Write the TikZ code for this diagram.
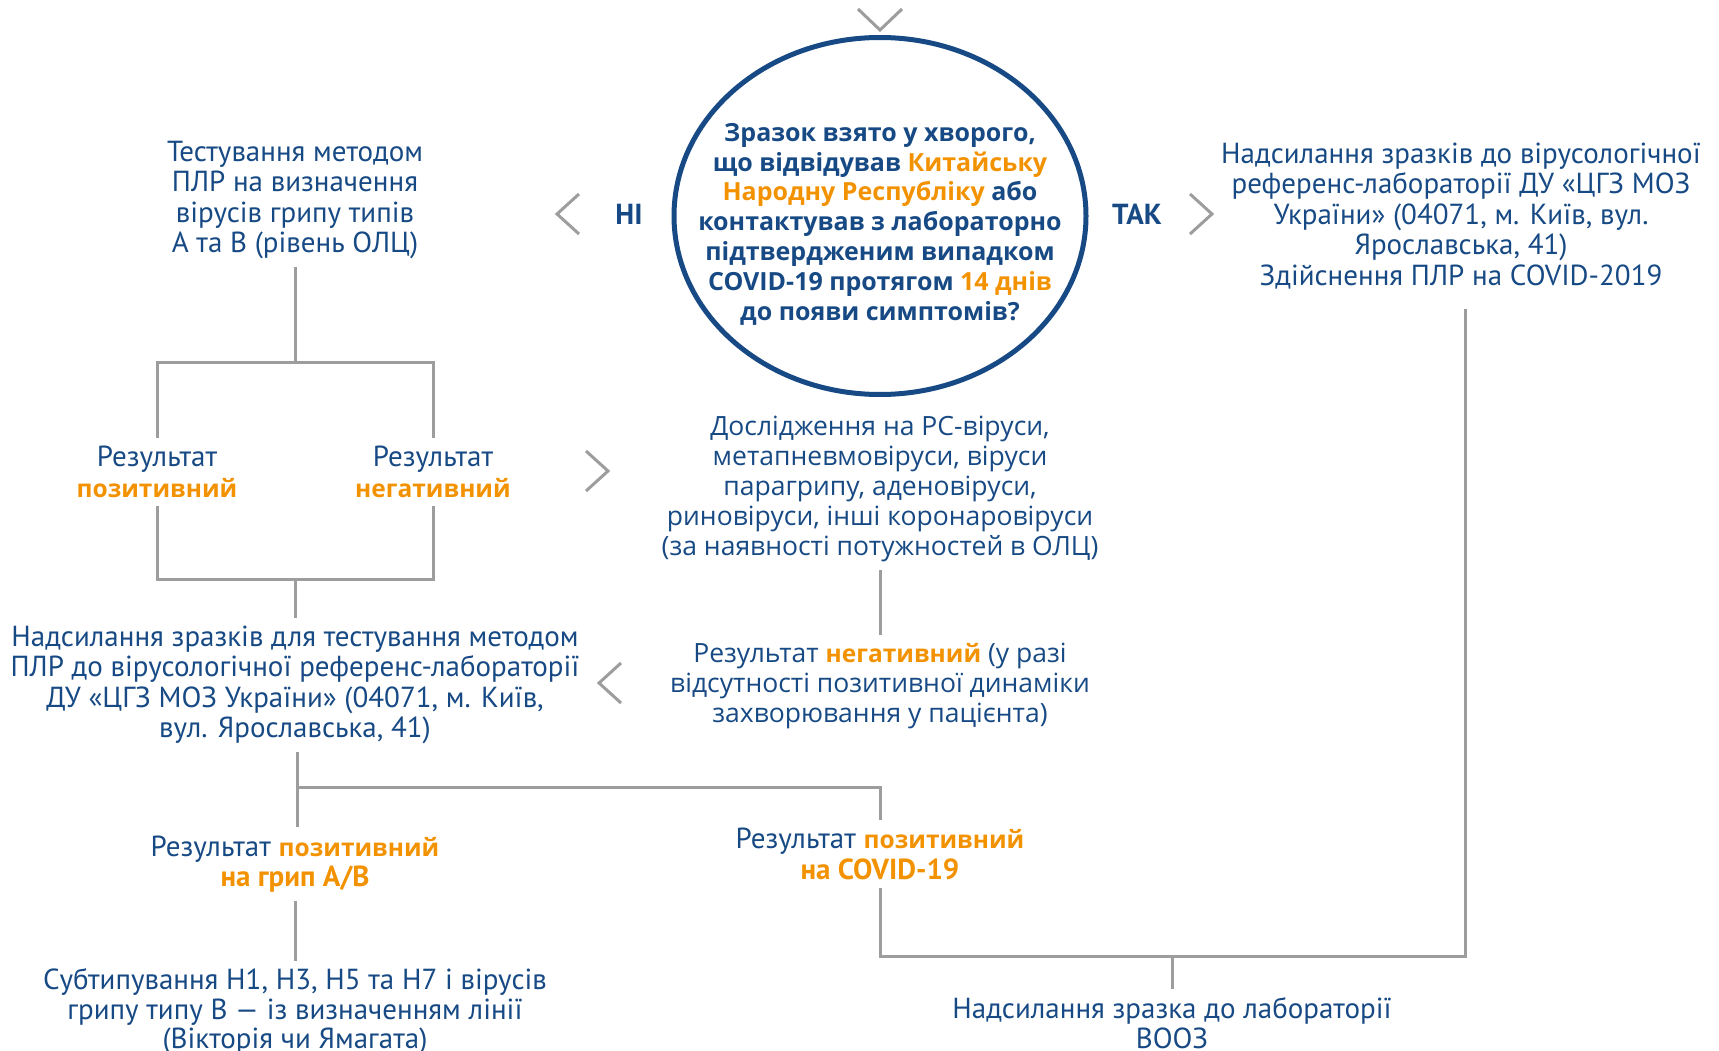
\documentclass[tikz,border=0pt]{standalone}
\usepackage{fontspec}
\setmainfont{PT Sans}
\newfontfamily\widefont{Open Sans}
\usepackage{tikz}
\usetikzlibrary{positioning,shapes.geometric}
\definecolor{navy}{HTML}{174A84}
\definecolor{amber}{HTML}{F39200}
\definecolor{greyline}{HTML}{9D9D9D}
\newcommand\orng[1]{{\color{amber}#1}}
\newcommand\orb[1]{{\widefont\bfseries\fontsize{24.5}{30}\selectfont\color{amber}#1}}
\newcommand\orn[1]{{\bfseries\color{amber}#1}}

\begin{document}
\begin{tikzpicture}[x=1pt,y=-1pt,
	txt/.style={text=navy, align=center, inner sep=8pt,
		font=\fontsize{29}{30.5}\selectfont},
	wide/.style={text=navy, align=center, inner sep=8pt,
		font=\widefont\fontsize{26.5}{29.8}\selectfont},
	quest/.style={ellipse, draw=navy, line width=5pt, minimum width=412pt,
		minimum height=357pt, inner sep=0pt},
	questtext/.style={text=navy, align=center,
		font=\widefont\bfseries\fontsize{25}{29.8}\selectfont},
	yesno/.style={text=navy, font=\bfseries\fontsize{29}{30}\selectfont},
	ln/.style={draw=greyline, line width=3pt},
	chev/.style={draw=greyline, line width=3pt},
	pics/chevleft/.style={code={\draw[chev] (22,-20) -- (0,0) -- (22,20);}},
	pics/chevright/.style={code={\draw[chev] (-22,-20) -- (0,0) -- (-22,20);}},
	pics/chevdown/.style={code={\draw[chev] (-22,-21) -- (0,0) -- (22,-21);}}
	]
	\useasboundingbox (0,0) rectangle (1719,1051);

	\node (q) [quest] at (880,216) {};
	\node (qtext) [questtext] at (880,224) {Зразок взято у хворого,\\що відвідував \orng{Китайську}\\\orng{Народну Республіку} або\\контактував з лабораторно\\підтвердженим випадком\\COVID-19 протягом \orng{14 днів}\\до появи симптомів?};
	\pic at (880,30) {chevdown};

	\node (ni) [yesno] at (629,214) {НІ};
	\pic at (557,214) {chevleft};
	\node (tak) [yesno] at (1137,214) {ТАК};
	\pic at (1212,214) {chevright};

	\node (tl) [txt] at (295,200) {Тестування методом\\ПЛР на визначення\\вірусів грипу типів\\А та В (рівень ОЛЦ)};
	\node (tr) [txt] at (1461,216) {Надсилання зразків до вірусологічної\\референс-лабораторії ДУ «ЦГЗ МОЗ\\України» (04071, м. Київ, вул.\\Ярославська, 41)\\Здійснення ПЛР на COVID-2019};

	\node (pos1) [txt] at (157,472) {Результат\\\orb{позитивний}};
	\node (neg1) [txt] at (433,472) {Результат\\\orb{негативний}};
	\pic at (608,471) {chevright};

	\node (mid) [wide] at (880,489) {Дослідження на РС-віруси,\\метапневмовіруси, віруси\\парагрипу, аденовіруси,\\риновіруси, інші коронаровіруси\\(за наявності потужностей в ОЛЦ)};
	\node (neg2) [wide] at (880,686) {Результат \orb{негативний} (у разі\\відсутності позитивної динаміки\\захворювання у пацієнта)};
	\pic at (599,683) {chevleft};

	\node (sendL) [txt] at (295,685) {Надсилання зразків для тестування методом\\ПЛР до вірусологічної референс-лабораторії\\ДУ «ЦГЗ МОЗ України» (04071, м. Київ,\\вул. Ярославська, 41)};

	\node (pos2) [txt] at (295,864) {Результат \orb{позитивний}\\\orn{на грип А/В}};
	\node (covid) [txt] at (880,854) {Результат \orb{позитивний}\\\orn{на COVID-19}};
	\node (sub) [txt, font=\fontsize{29}{29.5}\selectfont] at (295,1012) {Субтипування Н1, Н3, Н5 та Н7 і вірусів\\грипу типу В — із визначенням лінії\\(Вікторія чи Ямагата)};
	\node (who) [txt] at (1172,1023) {Надсилання зразка до лабораторії\\ВООЗ};

	\coordinate (j1) at (295,362);
	\coordinate (j2) at (295,579);
	\coordinate (j3) at (297,787);
	\coordinate (j4) at (1172,956);

	\draw[ln] (tl.south) -- (j1);
	\draw[ln] (pos1.north) -- (pos1.north |- j1) -- (neg1.north |- j1) -- (neg1.north);
	\draw[ln] (pos1.south) -- (pos1.south |- j2) -- (neg1.south |- j2) -- (neg1.south);
	\draw[ln] (j2) -- (sendL.north);
	\draw[ln] (mid.south) -- (neg2.north);
	\draw[ln] (sendL.south -| j3) -- (pos2.north -| j3);
	\draw[ln] (j3) -| (covid.north);
	\draw[ln] (pos2.south) -- (sub.north);
	\draw[ln, shorten >=12pt] (covid.south) |- (j4) -| (tr.south -| 1465,0);
	\draw[ln] (j4) -- (who.north);
\end{tikzpicture}
\end{document}
